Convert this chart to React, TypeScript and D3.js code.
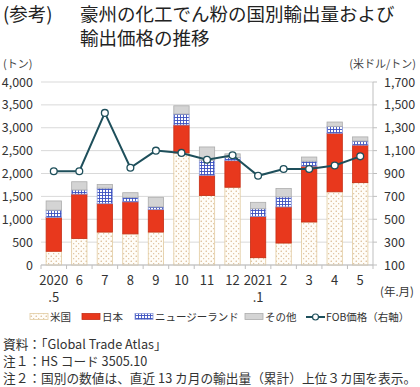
import * as d3 from "d3"

const CATEGORIES = ["2020.5", "6", "7", "8", "9", "10", "11", "12", "2021.1", "2", "3", "4", "5"]
const US = [300, 580, 720, 680, 720, 2450, 1520, 1700, 160, 480, 940, 1600, 1800]
const JAPAN = [740, 970, 620, 700, 490, 610, 440, 580, 900, 790, 1220, 1280, 820]
const NZ = [160, 90, 340, 100, 60, 240, 330, 70, 170, 220, 110, 150, 90]
const OTHER = [200, 180, 80, 100, 210, 180, 290, 80, 140, 180, 90, 95, 90]
const FOB = [920, 920, 1430, 950, 1100, 1080, 1020, 1060, 880, 940, 940, 970, 1050]

const LEFT_TICKS = d3.range(0, 4001, 500)
const RIGHT_TICKS = d3.range(100, 1701, 200)

const SERIES = [
  { key: "us", label: "米国", values: US, fill: "url(#dots)", stroke: "#e2cba0" },
  { key: "jp", label: "日本", values: JAPAN, fill: "#e8381d", stroke: "#c62d14" },
  { key: "nz", label: "ニュージーランド", values: NZ, fill: "url(#grid)", stroke: "#8a98d8" },
  { key: "ot", label: "その他", values: OTHER, fill: "#d4d4d4", stroke: "#acacac" },
]

const FONT = "'Noto Sans CJK JP', 'Noto Sans', sans-serif"
const LINE = "#1e4f5b"

export default function App() {
  const W = 420
  const H = 387
  const left = 41
  const right = 373
  const top = 82
  const bottom = 265

  const x = d3.scaleBand<string>().domain(CATEGORIES).range([left, right]).paddingInner(0.4).paddingOuter(0.2)
  const yL = d3.scaleLinear().domain([0, 4000]).range([bottom, top])
  const yR = d3.scaleLinear().domain([100, 1700]).range([bottom, top])

  const stack = d3
    .stack<number>()
    .keys(SERIES.map((s) => s.key))
    .value((i, key) => SERIES.find((s) => s.key === key)!.values[i])(d3.range(CATEGORIES.length))

  const line = d3
    .line<number>()
    .x((_, i) => x(CATEGORIES[i])! + x.bandwidth() / 2)
    .y((d) => yR(d))

  const step = x.step()
  const boundaries = d3.range(CATEGORIES.length + 1).map((i) => left + i * step)

  const legend = [
    { x: 30, tx: 50, s: SERIES[0] },
    { x: 82, tx: 102, s: SERIES[1] },
    { x: 135, tx: 155, s: SERIES[2] },
    { x: 245, tx: 265, s: SERIES[3] },
  ]
  const ly = 317

  return (
    <svg width={W} height={H} style={{ display: "block", fontFamily: FONT }}>
      <style>{`body{margin:0}`}</style>
      <defs>
        <pattern id="dots" width={5} height={5} patternUnits="userSpaceOnUse">
          <rect width={5} height={5} fill="#fffdf8" />
          <circle cx={1.2} cy={1.2} r={0.6} fill="#c99a62" />
          <circle cx={3.7} cy={3.7} r={0.6} fill="#d9b588" />
        </pattern>
        <pattern id="grid" width={3} height={3} patternUnits="userSpaceOnUse">
          <rect width={3} height={3} fill="#ffffff" />
          <path d="M0,0.5H3M0.5,0V3" stroke="#3a4fbf" strokeWidth={0.9} />
        </pattern>
      </defs>

      <g fontSize={18.5} fill="#222">
        <text x={3} y={21}>(参考)</text>
        <text x={80} y={21}>豪州の化工でん粉の国別輸出量および</text>
        <text x={80} y={45}>輸出価格の推移</text>
      </g>

      <text x={3} y={68} fontSize={11} fill="#444">(トン)</text>
      <text x={416} y={68} fontSize={11} fill="#444" textAnchor="end">(米ドル/トン)</text>

      {LEFT_TICKS.map((t) => (
        <g key={t}>
          <line x1={left} x2={right} y1={yL(t)} y2={yL(t)} stroke="#d9d9d9" />
          <text x={33} y={yL(t)} dy="0.36em" fontSize={12.5} textAnchor="end" fill="#333">
            {d3.format(",")(t)}
          </text>
        </g>
      ))}
      {RIGHT_TICKS.map((t) => (
        <g key={t}>
          <line x1={right} x2={right + 4} y1={yR(t)} y2={yR(t)} stroke="#bfbfbf" />
          <text x={384} y={yR(t)} dy="0.36em" fontSize={12.5} fill="#333">
            {d3.format(",")(t)}
          </text>
        </g>
      ))}
      <line x1={right} x2={right} y1={top} y2={bottom} stroke="#bfbfbf" />

      {stack.map((layer, li) =>
        layer.map((d, i) => (
          <rect
            key={`${li}-${i}`}
            x={x(CATEGORIES[i])}
            y={yL(d[1])}
            width={x.bandwidth()}
            height={yL(d[0]) - yL(d[1])}
            fill={SERIES[li].fill}
            stroke={SERIES[li].stroke}
            strokeWidth={0.8}
          />
        ))
      )}

      <line x1={left} x2={right} y1={bottom} y2={bottom} stroke="#bfbfbf" />
      {boundaries.map((bx, i) => (
        <line key={i} x1={bx} x2={bx} y1={bottom} y2={bottom + 4} stroke="#bfbfbf" />
      ))}

      {CATEGORIES.map((c) => {
        const [a, b] = c.split(".")
        const cx = x(c)! + x.bandwidth() / 2
        return (
          <g key={c} fontSize={13} fill="#333" textAnchor="middle">
            <text x={cx} y={285}>{a}</text>
            {b && <text x={cx} y={302}>.{b}</text>}
          </g>
        )
      })}
      <text x={414} y={296} fontSize={11.5} fill="#333" textAnchor="end">(年.月)</text>

      <path d={line(FOB) ?? ""} fill="none" stroke={LINE} strokeWidth={2} />
      {FOB.map((v, i) => (
        <circle
          key={i}
          cx={x(CATEGORIES[i])! + x.bandwidth() / 2}
          cy={yR(v)}
          r={3.4}
          fill="#fff"
          stroke={LINE}
          strokeWidth={1.3}
        />
      ))}

      {legend.map((l) => (
        <g key={l.s.key}>
          <rect
            x={l.x}
            y={ly - 3.5}
            width={18}
            height={6}
            fill={l.s.fill}
            stroke={l.s.stroke}
            strokeWidth={0.8}
          />
          <text x={l.tx} y={ly} dy="0.36em" fontSize={10.5} fill="#333">{l.s.label}</text>
        </g>
      ))}
      <line x1={306} x2={325} y1={ly} y2={ly} stroke={LINE} strokeWidth={2} />
      <circle cx={315.5} cy={ly} r={3} fill="#fff" stroke={LINE} strokeWidth={1.2} />
      <text x={326} y={ly} dy="0.36em" fontSize={10.5} fill="#333">FOB価格（右軸）</text>

      <g fontSize={12.7} fill="#333">
        <text x={3} y={349}>資料：「Global Trade Atlas」</text>
        <text x={3} y={366}>注１：HS コード 3505.10</text>
        <text x={3} y={383}>注２：国別の数値は、直近 13 カ月の輸出量（累計）上位３カ国を表示。</text>
      </g>
    </svg>
  )
}
